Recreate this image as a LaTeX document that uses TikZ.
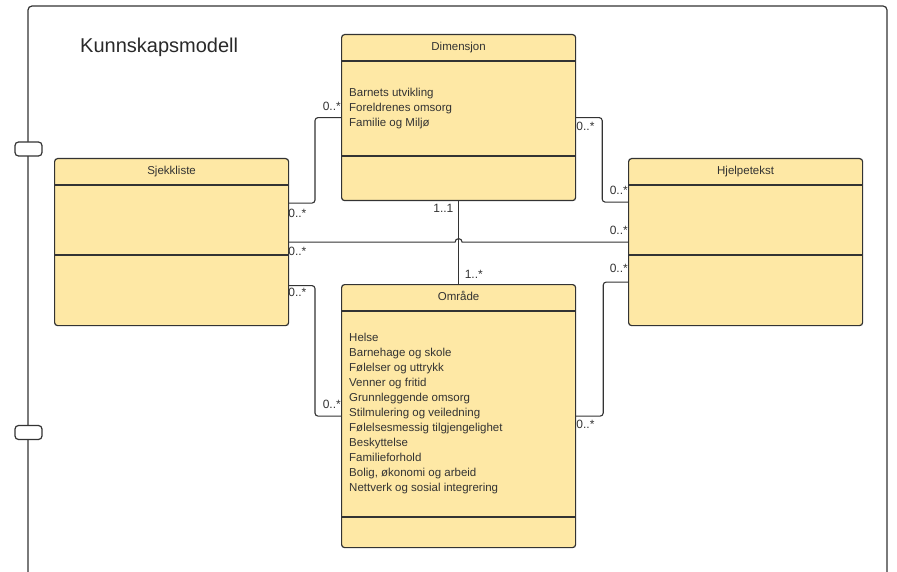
\documentclass[tikz,border=0pt]{standalone}
\usepackage{fontspec}
\setmainfont{Liberation Sans}
\usetikzlibrary{calc}
\definecolor{umlfill}{RGB}{254,232,165}
\definecolor{ink}{RGB}{51,51,51}
\begin{document}
\begin{tikzpicture}[x=1pt,y=-1pt,
  umlbox/.style={draw=ink, fill=umlfill, line width=1.2pt, rounded corners=3pt,
    anchor=north west, minimum width=234pt, inner sep=0pt},
  boxtitle/.style={font=\fontsize{11.5}{14}\selectfont, text=ink, anchor=base, inner sep=0pt},
  attrs/.style={font=\fontsize{11.5}{15}\selectfont, text=ink, align=left,
    anchor=north west, inner sep=0pt},
  mult/.style={font=\fontsize{12}{14}\selectfont, text=ink, inner sep=0pt},
  link/.style={draw=ink, line width=1.1pt, rounded corners=3pt},
  divider/.style={draw=ink, line width=1.1pt},
  tab/.style={draw=ink, fill=white, line width=1.2pt, rounded corners=3.5pt,
    minimum width=27pt, minimum height=14pt, inner sep=0pt}
]
\useasboundingbox (0,0) rectangle (897,572);

% outer frame with its two side tabs
\draw[ink, line width=1.2pt, rounded corners=4pt] (28,572) -- (28,6) -- (887,6) -- (887,572);
\node[tab] (tabA) at (28.5,149) {};
\node[tab] (tabB) at (28.5,432.5) {};

\node[anchor=base west, font=\fontsize{20}{24}\selectfont, text=ink!80!black, inner sep=0pt]
  (title) at (80,53) {Kunnskapsmodell};

% class boxes
\node[umlbox, minimum height=166pt] (dim) at (341,34) {};
\node[umlbox, minimum height=167pt] (sjek) at (54,158) {};
\node[umlbox, minimum height=167pt] (hjelp) at (628,158) {};
\node[umlbox, minimum height=263pt] (omr) at (341,284) {};

% compartment dividers
\draw[divider] ($(dim.north west)+(0,27)$) -- ($(dim.north east)+(0,27)$);
\draw[divider] ($(dim.north west)+(0,122)$) -- ($(dim.north east)+(0,122)$);
\draw[divider] ($(sjek.north west)+(0,27)$) -- ($(sjek.north east)+(0,27)$);
\draw[divider] ($(sjek.north west)+(0,97)$) -- ($(sjek.north east)+(0,97)$);
\draw[divider] ($(hjelp.north west)+(0,27)$) -- ($(hjelp.north east)+(0,27)$);
\draw[divider] ($(hjelp.north west)+(0,97)$) -- ($(hjelp.north east)+(0,97)$);
\draw[divider] ($(omr.north west)+(0,27)$) -- ($(omr.north east)+(0,27)$);
\draw[divider] ($(omr.north west)+(0,233)$) -- ($(omr.north east)+(0,233)$);

% class names
\node[boxtitle] (dimT) at ($(dim.north)+(0,17)$) {Dimensjon};
\node[boxtitle] (sjekT) at ($(sjek.north)+(0,17)$) {Sjekkliste};
\node[boxtitle] (hjelpT) at ($(hjelp.north)+(0,17)$) {Hjelpetekst};
\node[boxtitle] (omrT) at ($(omr.north)+(0,16)$) {Område};

% attributes
\node[attrs] (dimA) at ($(dim.north west)+(8,53.8)$)
  {Barnets utvikling\\Foreldrenes omsorg\\Familie og Miljø};
\node[attrs] (omrA) at ($(omr.north west)+(8,49.3)$)
  {Helse\\Barnehage og skole\\Følelser og uttrykk\\Venner og fritid\\
   Grunnleggende omsorg\\Stilmulering og veiledning\\Følelsesmessig tilgjengelighet\\
   Beskyttelse\\Familieforhold\\Bolig, økonomi og arbeid\\Nettverk og sosial integrering};

% associations
\draw[link] ($(sjek.east)+(0,-39)$) -| ($(dim.west)+(-26,0)$) -- (dim.west);
\draw[link] (dim.east) -- ($(dim.east)+(26,0)$) |- ($(hjelp.west)+(0,-40)$);
\draw[link, sharp corners] (sjek.east) -- ($(dim.south |- sjek.east)+(-3.5,0)$)
  arc[start angle=180, end angle=360, radius=3.5] -- (hjelp.west);
\draw[link] (dim.south) -- (omr.north);
\draw[link] ($(sjek.east)+(0,43.5)$) -| ($(omr.west)+(-26,0)$) -- (omr.west);
\draw[link] (omr.east) -- ($(omr.east)+(27,0)$) |- ($(hjelp.west)+(0,40)$);

% multiplicities
\node[mult, anchor=base east] (mA) at ($(dim.west)+(0,-7.5)$) {0..*};
\node[mult, anchor=base west] (mB) at ($(sjek.east)+(-1,-24.5)$) {0..*};
\node[mult, anchor=base west] (mC) at ($(dim.east)+(0,13)$) {0..*};
\node[mult, anchor=base east] (mD) at ($(hjelp.west)+(0,-48)$) {0..*};
\node[mult, anchor=base east] (mE) at ($(hjelp.west)+(0,-8)$) {0..*};
\node[mult, anchor=base east] (mF) at ($(hjelp.west)+(0,30)$) {0..*};
\node[mult, anchor=base west] (mG) at ($(sjek.east)+(-1,13.5)$) {0..*};
\node[mult, anchor=base west] (mH) at ($(sjek.east)+(-1,54.5)$) {0..*};
\node[mult, anchor=base east] (mI) at ($(dim.south)+(-5,11)$) {1..1};
\node[mult, anchor=base west] (mJ) at ($(omr.north)+(6,-6)$) {1..*};
\node[mult, anchor=base east] (mK) at ($(omr.west)+(0,-7.5)$) {0..*};
\node[mult, anchor=base west] (mL) at ($(omr.east)+(0,12.5)$) {0..*};
\end{tikzpicture}
\end{document}
